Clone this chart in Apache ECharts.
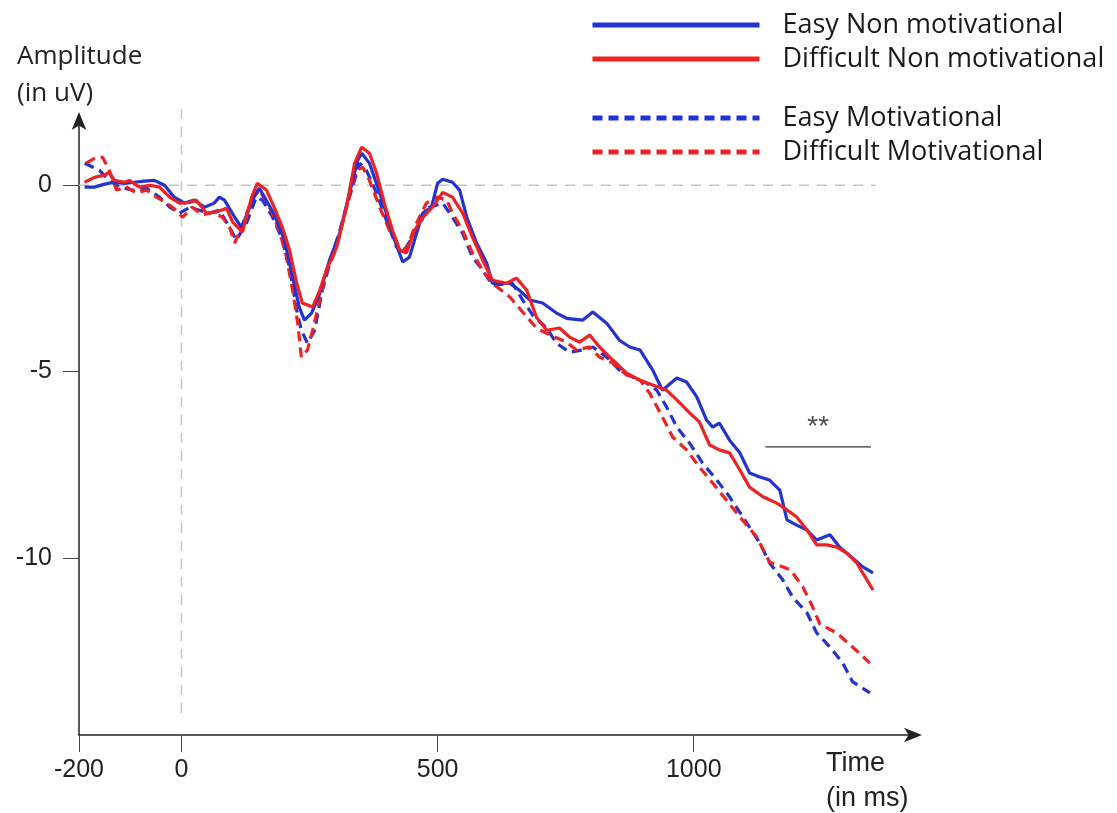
<!DOCTYPE html>
<html>
<head>
<meta charset="utf-8">
<script src="https://cdn.jsdelivr.net/npm/echarts@6/dist/echarts.min.js"></script>
<style>
html,body{margin:0;padding:0;background:#fff;}
#chart{width:1117px;height:813px;}
</style>
</head>
<body>
<div id="chart"></div>
<script>
// ---- data: [time (ms), amplitude (uV)] ----
const easyNonMot = [[-189,-0.05],[-170,-0.05],[-150,0.03],[-131,0.08],[-111,0.05],[-92,0.08],[-72,0.11],[-53,0.13],[-33,0],[-14,-0.32],[6,-0.48],[25,-0.40],[45,-0.59],[64,-0.48],[74,-0.32],[84,-0.40],[104,-0.86],[117,-1.13],[123,-0.94],[143,-0.27],[152,-0.08],[162,-0.32],[182,-0.80],[201,-1.47],[217,-2.47],[230,-3.27],[240,-3.62],[254,-3.43],[270,-2.90],[289,-2.01],[309,-1.29],[328,-0.21],[344,0.67],[352,0.86],[367,0.59],[383,-0.05],[400,-0.75],[416,-1.47],[432,-2.06],[445,-1.93],[459,-1.29],[471,-0.75],[488,-0.59],[500,0.05],[510,0.16],[529,0.08],[543,-0.13],[557,-0.86],[576,-1.55],[596,-2.09],[607,-2.63],[641,-2.63],[660,-2.82],[680,-3.08],[705,-3.16],[732,-3.43],[752,-3.57],[783,-3.62],[803,-3.40],[830,-3.70],[855,-4.16],[875,-4.34],[895,-4.42],[920,-4.96],[939,-5.50],[967,-5.17],[986,-5.28],[1006,-5.68],[1025,-6.30],[1037,-6.49],[1050,-6.38],[1070,-6.84],[1090,-7.18],[1109,-7.72],[1129,-7.83],[1148,-7.91],[1168,-8.18],[1182,-8.98],[1201,-9.12],[1221,-9.25],[1240,-9.52],[1266,-9.38],[1285,-9.71],[1310,-10.0],[1330,-10.24],[1350,-10.40]];
const diffNonMot = [[-189,0.08],[-170,0.21],[-150,0.27],[-141,0.35],[-131,0.13],[-111,0.08],[-102,0.13],[-82,-0.05],[-62,0],[-43,-0.05],[-23,-0.32],[-4,-0.48],[16,-0.46],[29,-0.40],[49,-0.75],[68,-0.72],[88,-0.62],[100,-0.99],[119,-1.26],[137,-0.32],[148,0.05],[166,-0.13],[182,-0.62],[197,-1.13],[211,-1.74],[225,-2.63],[236,-3.16],[256,-3.27],[270,-2.82],[283,-2.28],[303,-1.66],[322,-0.59],[338,0.59],[352,1.02],[367,0.86],[381,0.32],[396,-0.48],[412,-1.21],[426,-1.74],[439,-1.82],[455,-1.21],[471,-0.86],[490,-0.59],[510,-0.19],[529,-0.32],[549,-0.75],[568,-1.39],[588,-2.01],[607,-2.55],[635,-2.63],[654,-2.49],[674,-2.82],[693,-3.54],[713,-3.89],[738,-3.83],[758,-4.08],[777,-4.21],[797,-4.02],[816,-4.34],[842,-4.69],[869,-5.04],[895,-5.23],[920,-5.36],[947,-5.50],[967,-5.76],[992,-6.11],[1011,-6.35],[1031,-6.97],[1050,-7.10],[1070,-7.18],[1090,-7.64],[1109,-8.10],[1135,-8.36],[1162,-8.53],[1182,-8.71],[1201,-8.90],[1221,-9.25],[1240,-9.65],[1260,-9.65],[1279,-9.71],[1299,-9.87],[1318,-10.13],[1338,-10.59],[1350,-10.86]];
const easyMot = [[-189,0.59],[-160,0.40],[-141,0.13],[-121,-0.05],[-96,-0.13],[-68,-0.08],[-43,-0.32],[-23,-0.59],[-4,-0.75],[16,-0.59],[35,-0.67],[55,-0.75],[74,-0.67],[94,-1.13],[107,-1.47],[127,-1.02],[146,-0.32],[158,-0.40],[178,-0.86],[195,-1.39],[211,-2.20],[225,-3.35],[234,-3.89],[246,-4.24],[260,-3.89],[275,-2.82],[293,-1.93],[309,-1.21],[328,-0.32],[348,0.59],[361,0.40],[381,-0.21],[400,-0.94],[420,-1.66],[432,-1.82],[451,-1.39],[465,-1.02],[484,-0.59],[510,-0.48],[529,-0.86],[549,-1.29],[568,-1.93],[588,-2.28],[607,-2.68],[646,-2.63],[666,-3.08],[686,-3.49],[713,-3.83],[732,-4.24],[758,-4.48],[783,-4.42],[803,-4.34],[830,-4.61],[855,-4.96],[881,-5.15],[908,-5.31],[928,-5.50],[947,-5.95],[967,-6.49],[992,-6.92],[1017,-7.45],[1045,-7.91],[1070,-8.36],[1096,-8.90],[1129,-9.60],[1148,-10.13],[1174,-10.59],[1193,-11.05],[1221,-11.47],[1240,-12.01],[1266,-12.39],[1291,-12.82],[1310,-13.32],[1344,-13.62]];
const diffMot = [[-186,0.59],[-166,0.75],[-154,0.75],[-141,0.40],[-127,-0.13],[-107,-0.05],[-88,-0.21],[-68,-0.13],[-49,-0.32],[-29,-0.48],[-10,-0.67],[2,-0.86],[21,-0.59],[41,-0.80],[61,-0.72],[80,-0.86],[94,-1.13],[104,-1.55],[117,-1.13],[137,-0.40],[152,-0.13],[172,-0.59],[191,-1.21],[205,-1.93],[217,-2.82],[227,-3.70],[234,-4.61],[246,-4.42],[256,-3.89],[270,-3.08],[283,-2.36],[303,-1.66],[322,-0.59],[342,0.40],[354,0.48],[367,0.13],[387,-0.59],[406,-1.21],[426,-1.66],[439,-1.74],[455,-1.13],[478,-0.48],[498,-0.32],[518,-0.40],[529,-0.75],[549,-1.21],[568,-1.82],[588,-2.28],[607,-2.63],[641,-3.00],[666,-3.40],[693,-3.83],[719,-4.02],[752,-4.21],[771,-4.42],[797,-4.34],[816,-4.61],[842,-4.77],[869,-5.09],[895,-5.23],[914,-5.58],[939,-6.22],[959,-6.76],[986,-7.10],[1011,-7.56],[1037,-7.99],[1064,-8.45],[1090,-8.90],[1123,-9.44],[1148,-10.11],[1189,-10.32],[1213,-10.78],[1232,-11.31],[1246,-11.77],[1279,-12.01],[1310,-12.39],[1344,-12.82]];

const xTicks = [-200, 0, 500, 1000];
const yTicks = [0, -5, -10];
const zeroLine = [[-200, 0], [1355, 0]];
const onsetLine = [[0, 2.05], [0, -14.3]];
const sigSpan = [[1140, -7.02], [1346, -7.02]];
const sigMark = [[1243, -6.5]];
const sigLabel = '**';

const BLUE = '#2233d0';
const RED = '#ee2222';
const sans = "'Liberation Sans',Arial,sans-serif";
const soft = "'Open Sans',Lato,sans-serif";

const chart = echarts.init(document.getElementById('chart'), null, {renderer: 'canvas'});

const legendText = {fontFamily: soft, fontSize: 27, color: '#1a1a1a', lineHeight: 30, padding: [0, 0, 0, 18]};
const legendCommon = {orient: 'vertical', left: 585, itemWidth: 167, itemHeight: 14, itemGap: 4,
  textStyle: legendText, lineStyle: {width: 5}, itemStyle: {opacity: 0}, selectedMode: false};

chart.setOption({
  backgroundColor: '#fff',
  animation: false,
  grid: {left: 79, right: 203, top: 120, bottom: 78, containLabel: false, outerBoundsMode: 'none'},
  legend: [
    Object.assign({data: ['Easy Non motivational', 'Difficult Non motivational'], top: 5}, legendCommon),
    Object.assign({data: ['Easy Motivational', 'Difficult Motivational'], top: 98}, legendCommon)
  ],
  xAxis: {
    type: 'value', min: -200, max: 1430,
    axisLine: {show: true, onZero: false, symbol: ['none', 'arrow'], symbolSize: [11, 18], symbolOffset: [0, 8],
      lineStyle: {color: '#222', width: 1.5}},
    axisTick: {show: true, customValues: xTicks, length: 17, lineStyle: {color: '#444', width: 1}},
    axisLabel: {customValues: xTicks, margin: 23, fontFamily: sans, fontSize: 25, color: '#222',
      formatter: function (v) { return String(v); }},
    splitLine: {show: false}
  },
  yAxis: {
    type: 'value', min: -14.75, max: 1.75,
    axisLine: {show: true, onZero: false, symbol: ['none', 'arrow'], symbolSize: [11, 18], symbolOffset: [0, 8],
      lineStyle: {color: '#222', width: 1.5}},
    axisTick: {show: true, customValues: yTicks, length: 16, lineStyle: {color: '#444', width: 1}},
    axisLabel: {customValues: yTicks, margin: 27, fontFamily: sans, fontSize: 25, color: '#222',
      formatter: function (v) { return String(v); }},
    splitLine: {show: false}
  },
  graphic: [
    {type: 'text', left: 17, top: 44, style: {text: 'Amplitude', font: "26px 'Open Sans', Lato, sans-serif", fill: '#222'}},
    {type: 'text', left: 17, top: 81, style: {text: '(in uV)', font: "26px 'Open Sans', Lato, sans-serif", fill: '#222'}},
    {type: 'text', left: 826, top: 750, style: {text: 'Time', font: "27px 'Liberation Sans', Arial", fill: '#222'}},
    {type: 'text', left: 826, top: 785, style: {text: '(in ms)', font: "27px 'Liberation Sans', Arial", fill: '#222'}}
  ],
  series: [
    {name: 'zero', type: 'line', data: zeroLine, symbol: 'none', silent: true, clip: false,
     lineStyle: {color: '#c4c4c4', width: 1.5, type: [10, 8]}},
    {name: 'onset', type: 'line', data: onsetLine, symbol: 'none', silent: true, clip: false,
     lineStyle: {color: '#c4c4c4', width: 1.5, type: [10, 8]}},
    {name: 'Easy Motivational', type: 'line', data: easyMot, symbol: 'none',
     lineStyle: {color: BLUE, width: 3.2, type: [10, 6]}, itemStyle: {color: BLUE}},
    {name: 'Difficult Motivational', type: 'line', data: diffMot, symbol: 'none',
     lineStyle: {color: RED, width: 3.2, type: [10, 6]}, itemStyle: {color: RED}},
    {name: 'Easy Non motivational', type: 'line', data: easyNonMot, symbol: 'none',
     lineStyle: {color: BLUE, width: 3.2}, itemStyle: {color: BLUE}},
    {name: 'Difficult Non motivational', type: 'line', data: diffNonMot, symbol: 'none',
     lineStyle: {color: RED, width: 3.2}, itemStyle: {color: RED}},
    {name: 'sig', type: 'line', data: sigSpan, symbol: 'none', silent: true,
     lineStyle: {color: '#333', width: 1.2}},
    {name: 'sigText', type: 'scatter', data: sigMark, symbolSize: 0, silent: true,
     label: {show: true, position: 'inside', formatter: sigLabel, fontFamily: sans, fontSize: 28, color: '#222'}}
  ]
});
</script>
</body>
</html>
